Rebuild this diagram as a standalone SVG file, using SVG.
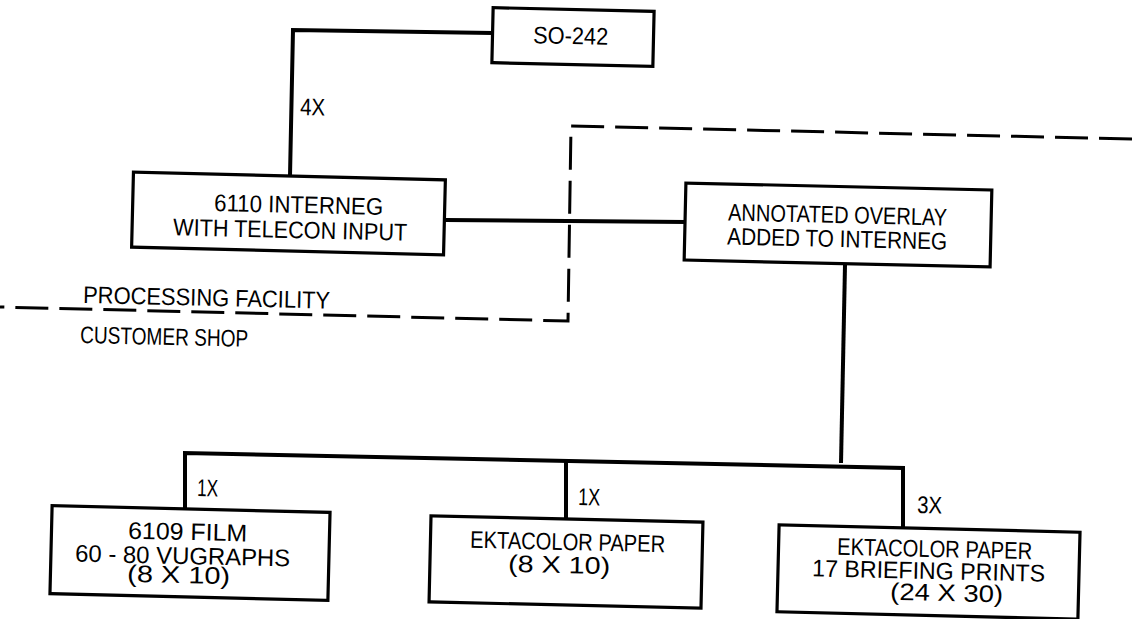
<svg xmlns="http://www.w3.org/2000/svg" width="1132" height="619" viewBox="0 0 1132 619">
<style>
.box{fill:#fff;stroke:#000;stroke-width:3.2}
.con{fill:none;stroke:#000;stroke-width:4;stroke-linejoin:miter}
.dash{fill:none;stroke:#000;stroke-width:3;stroke-dasharray:33 11}
text{font-family:"Liberation Sans",Arial,sans-serif;font-size:24px;fill:#000}
.m{text-anchor:middle}
</style>
<rect width="1132" height="619" fill="#fff"/>
<g id="boundary">
<path class="dash" d="M1132,139 L571,126 L568,321 L0,307"/>
<text x="83" y="303" textLength="247" lengthAdjust="spacingAndGlyphs" transform="rotate(1.3 83 303)">PROCESSING FACILITY</text>
<text x="80" y="343" textLength="168" lengthAdjust="spacingAndGlyphs" transform="rotate(1.3 80 343)">CUSTOMER SHOP</text>
</g>
<g id="connectors">
<polyline class="con" points="493,33 293,30 290,176"/>
<polyline class="con" points="445,220 686,222"/>
<polyline class="con" points="845,265 841,463"/>
<polyline class="con" points="185,509 185,453 903,468 903,528"/>
<polyline class="con" points="566,461 566,519"/>
<text x="300" y="115" textLength="25" lengthAdjust="spacingAndGlyphs" transform="rotate(1.3 300 115)">4X</text>
<text x="197" y="496" textLength="21" lengthAdjust="spacingAndGlyphs" transform="rotate(1.3 197 496)">1X</text>
<text x="578" y="505" textLength="22" lengthAdjust="spacingAndGlyphs" transform="rotate(1.3 578 505)">1X</text>
<text x="917" y="513" textLength="25" lengthAdjust="spacingAndGlyphs" transform="rotate(1.3 917 513)">3X</text>
</g>
<g id="so242">
<rect class="box" x="492.5" y="9.5" width="161" height="55" transform="rotate(1.3 573 37)"/>
<text class="m" x="570.5" y="44" textLength="75" lengthAdjust="spacingAndGlyphs" transform="rotate(1.3 570.5 44)">SO-242</text>
</g>
<g id="interneg6110">
<rect class="box" x="132.5" y="176" width="312" height="75" transform="rotate(1.4 288.5 213.5)"/>
<text class="m" x="298.5" y="213" textLength="169" lengthAdjust="spacingAndGlyphs" transform="rotate(1.3 298.5 213)">6110 INTERNEG</text>
<text class="m" x="290" y="238" textLength="234" lengthAdjust="spacingAndGlyphs" transform="rotate(1.3 290 238)">WITH TELECON INPUT</text>
</g>
<g id="overlay">
<rect class="box" x="685" y="186.5" width="306" height="77" transform="rotate(1.3 838 225)"/>
<text class="m" x="837.5" y="223" textLength="219" lengthAdjust="spacingAndGlyphs" transform="rotate(1.3 837.5 223)">ANNOTATED OVERLAY</text>
<text class="m" x="837" y="247" textLength="220" lengthAdjust="spacingAndGlyphs" transform="rotate(1.3 837 247)">ADDED TO INTERNEG</text>
</g>
<g id="film6109">
<rect class="box" x="51" y="509" width="278" height="88" transform="rotate(1.4 190 553)"/>
<text class="m" x="187.5" y="540" textLength="119" lengthAdjust="spacingAndGlyphs" transform="rotate(1.3 187.5 540)">6109 FILM</text>
<text class="m" x="182.5" y="564" textLength="215" lengthAdjust="spacingAndGlyphs" transform="rotate(1.3 182.5 564)">60 - 80 VUGRAPHS</text>
<text class="m" x="178.5" y="583" textLength="103" lengthAdjust="spacingAndGlyphs" transform="rotate(1.3 178.5 583)">(8 X 10)</text>
</g>
<g id="ektacolor8x10">
<rect class="box" x="430" y="519" width="272" height="86" transform="rotate(1.3 566 562)"/>
<text class="m" x="567.5" y="550" textLength="195" lengthAdjust="spacingAndGlyphs" transform="rotate(1.3 567.5 550)">EKTACOLOR PAPER</text>
<text class="m" x="559" y="573" textLength="102" lengthAdjust="spacingAndGlyphs" transform="rotate(1.3 559 573)">(8 X 10)</text>
</g>
<g id="ektacolor24x30">
<rect class="box" x="778" y="528.5" width="301" height="87" transform="rotate(1.4 928.5 572)"/>
<text class="m" x="934.5" y="557" textLength="195" lengthAdjust="spacingAndGlyphs" transform="rotate(1.3 934.5 557)">EKTACOLOR PAPER</text>
<text class="m" x="928.5" y="579" textLength="233" lengthAdjust="spacingAndGlyphs" transform="rotate(1.3 928.5 579)">17 BRIEFING PRINTS</text>
<text class="m" x="946.5" y="601" textLength="113" lengthAdjust="spacingAndGlyphs" transform="rotate(1.3 946.5 601)">(24 X 30)</text>
</g>
</svg>
